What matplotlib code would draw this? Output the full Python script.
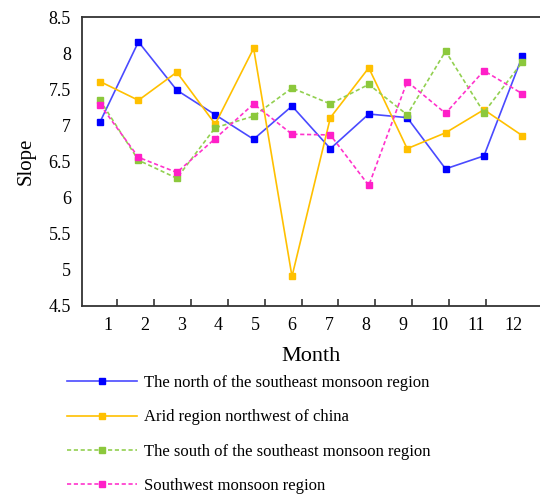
import matplotlib
matplotlib.use("Agg")
import matplotlib.pyplot as plt
from matplotlib.ticker import FixedLocator

months = list(range(1, 13))
month_labels = [str(m) for m in months]
north_se = [7.05, 8.16, 7.49, 7.15, 6.81, 7.27, 6.68, 7.16, 7.11, 6.40, 6.58, 7.96]
arid_nw = [7.61, 7.35, 7.74, 7.02, 8.07, 4.91, 7.11, 7.80, 6.68, 6.90, 7.22, 6.86]
south_se = [7.35, 6.52, 6.27, 6.97, 7.13, 7.52, 7.30, 7.57, 7.15, 8.03, 7.18, 7.88]
southwest = [7.29, 6.56, 6.35, 6.82, 7.30, 6.88, 6.87, 6.17, 7.61, 7.17, 7.76, 7.44]
y_ticks = [4.5, 5, 5.5, 6, 6.5, 7, 7.5, 8, 8.5]
y_tick_labels = ["4.5", "5", "5.5", "6", "6.5", "7", "7.5", "8", "8.5"]
series_names = [
    "The north of the southeast monsoon region",
    "Arid region northwest of china",
    "The south of the southeast monsoon region",
    "Southwest monsoon region",
]

plt.rcParams['font.family'] = ['Liberation Serif', 'DejaVu Serif']

fig = plt.figure(figsize=(5.4, 4.94), dpi=100)
ax = fig.add_axes([82/540, 1-306/494, 1-82/540, (306-17.3)/494])

dash = (0, (2.5, 1.6))
ax.plot(months, north_se, color='#4a4aff', lw=1.2, marker='s', ms=5,
        mfc='#0000ff', mec='#0000ff', label=series_names[0])
ax.plot(months, arid_nw, color='#ffc000', lw=1.2, marker='s', ms=5,
        mfc='#ffc000', mec='#ffc000', label=series_names[1])
ax.plot(months, south_se, color='#92d050', lw=1.2, ls=dash, marker='s', ms=5,
        mfc='#8cc83c', mec='#8cc83c', label=series_names[2])
ax.plot(months, southwest, color='#ff33cc', lw=1.2, ls=dash, marker='s', ms=5,
        mfc='#ff1fc8', mec='#ff1fc8', label=series_names[3])

ax.set_xlim(0.53, 12.46)
ax.set_ylim(4.5, 8.5)
ax.set_yticks(y_ticks)
ax.set_yticklabels(y_tick_labels)
ax.tick_params(axis='y', length=0, labelsize=13, pad=8)
ax.set_xticks([])

for s in ['left', 'bottom', 'top']:
    ax.spines[s].set_color('#333333')
    ax.spines[s].set_linewidth(1.3)
ax.spines['right'].set_visible(False)

def fwd(x):
    return (x - 1.2) / 0.96 + 1

def inv(L):
    return 1.2 + (L - 1) * 0.96

sec = ax.secondary_xaxis('bottom', functions=(fwd, inv))
sec.set_xticks(months)
sec.set_xticklabels(month_labels)
sec.xaxis.set_minor_locator(FixedLocator([m + 0.26 for m in months[:-1]]))
sec.tick_params(which='major', length=0, labelsize=13, pad=8)
sec.tick_params(which='minor', length=5, width=1.2, direction='in', color='#333333')
sec.spines['bottom'].set_visible(False)
sec.set_xlabel('Month', fontsize=16, labelpad=9)

ax.set_ylabel('Slope', fontsize=15, labelpad=9)

fig.legend(loc='upper left', bbox_to_anchor=(67/540, 1-375/494), frameon=False,
           fontsize=12, handlelength=4.2, handletextpad=0.42, labelspacing=1.1,
           borderpad=0, borderaxespad=0)

fig.savefig('out.png', dpi=100)
